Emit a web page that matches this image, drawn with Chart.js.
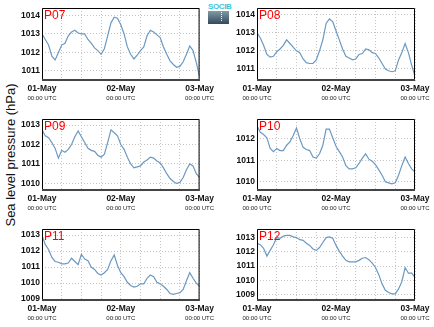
<!DOCTYPE html>
<html>
<head>
<meta charset="utf-8">
<script src="https://cdn.jsdelivr.net/npm/chart.js@4.4.1/dist/chart.umd.min.js"></script>
<style>
  body { margin: 0; width: 434px; height: 327px; overflow: hidden; background: #fff; font-family: "Liberation Sans", Arial, sans-serif; }
  .panel { position: absolute; }
  #ytitle { position: absolute; left: 10px; top: 155px; transform: translate(-50%, -50%) rotate(-90deg); font-size: 13px; white-space: nowrap; color: #111; }
  #logo { position: absolute; left: 208px; top: 3px; width: 21px; }
  #logo .txt { font-size: 8px; line-height: 7px; color: #3cc6dc; font-weight: bold; text-align: center; letter-spacing: -0.4px; }
  #logo .box { position: relative; height: 13px; margin-top: 1px; background: linear-gradient(#7f9aa6, #34495a); }
  #logo .box i { position: absolute; left: 13px; top: 1px; height: 9px; border-left: 1px dotted #fff; }
</style>
</head>
<body>
<div id="ytitle">Sea level pressure (hPa)</div>
<div id="logo"><div class="txt">SOCIB</div><div class="box"><i></i></div></div>
<script>
// Time axis: hours since 01-May 00:00 UTC
const hours = Array.from({length: 49}, (_, i) => i);
const dayLabels = ['01-May', '02-May', '03-May'];
const timeLabel = '00:00 UTC';

// Station names
const stations = ['P07', 'P08', 'P09', 'P10', 'P11', 'P12'];

// Hourly sea level pressure (hPa)
const p07 = [1013.0, 1012.7, 1012.4, 1011.8, 1011.6, 1012.0, 1012.4, 1012.5, 1012.9, 1013.1,
             1013.2, 1013.05, 1013.0, 1013.0, 1012.7, 1012.5, 1012.25, 1012.1, 1011.9, 1012.2,
             1012.9, 1013.6, 1013.9, 1013.85, 1013.5, 1013.0, 1012.3, 1011.9, 1011.65, 1011.85,
             1012.1, 1012.3, 1012.9, 1013.2, 1013.1, 1012.95, 1012.8, 1012.3, 1011.9, 1011.55,
             1011.35, 1011.2, 1011.25, 1011.5, 1011.9, 1012.35, 1012.1, 1011.45, 1010.7];
const p08 = [1013.0, 1012.7, 1012.3, 1011.8, 1011.65, 1011.7, 1011.95, 1012.1, 1012.3, 1012.6,
             1012.4, 1012.2, 1012.0, 1011.9, 1011.55, 1011.35, 1011.3, 1011.3, 1011.5, 1012.0,
             1012.6, 1013.5, 1013.75, 1013.6, 1013.1, 1012.6, 1012.1, 1011.7, 1011.6, 1011.5,
             1011.55, 1011.8, 1011.85, 1012.1, 1012.05, 1011.9, 1011.85, 1011.6, 1011.3, 1011.0,
             1010.9, 1010.85, 1010.9, 1011.5, 1011.9, 1012.4, 1011.9, 1011.2, 1010.6];
const p09 = [1012.75, 1012.45, 1012.35, 1012.1, 1011.8, 1011.3, 1011.7, 1011.6, 1011.75, 1012.0,
             1012.4, 1012.7, 1012.4, 1012.1, 1011.8, 1011.7, 1011.65, 1011.45, 1011.35, 1011.5,
             1012.1, 1012.75, 1012.6, 1012.45, 1012.0, 1011.75, 1011.35, 1011.0, 1010.8, 1010.85,
             1010.9, 1011.1, 1011.2, 1011.35, 1011.3, 1011.15, 1011.05, 1010.8, 1010.5, 1010.25,
             1010.1, 1010.0, 1010.05, 1010.3, 1010.7, 1011.0, 1010.9, 1010.5, 1010.3];
const p10 = [1012.6, 1012.3, 1012.2, 1012.05, 1011.55, 1011.4, 1011.55, 1011.45, 1011.45, 1011.7,
             1011.85, 1012.15, 1012.5, 1012.0, 1011.6, 1011.5, 1011.45, 1011.15, 1011.1, 1011.3,
             1011.7, 1012.45, 1012.45, 1012.05, 1011.65, 1011.4, 1011.15, 1010.75, 1010.6, 1010.6,
             1010.65, 1010.85, 1011.1, 1011.3, 1011.05, 1010.95, 1010.8, 1010.55, 1010.3, 1010.0,
             1009.95, 1009.9, 1009.95, 1010.3, 1010.75, 1011.15, 1010.85, 1010.6, 1010.45];
const p11 = [1013.0, 1012.4, 1012.1, 1011.6, 1011.35, 1011.3, 1011.2, 1011.2, 1011.25, 1011.55,
             1011.35, 1011.15, 1011.8, 1011.5, 1011.4, 1011.0, 1010.85, 1010.6, 1010.5, 1010.65,
             1010.85, 1011.4, 1011.75, 1011.1, 1010.65, 1010.4, 1010.05, 1009.85, 1009.75, 1009.8,
             1009.95, 1009.95, 1010.3, 1010.5, 1010.4, 1010.05, 1009.95, 1009.8, 1009.6, 1009.35,
             1009.3, 1009.35, 1009.4, 1009.6, 1010.15, 1010.65, 1010.3, 1010.0, 1009.8];
const p12 = [1012.6, 1012.5, 1012.25, 1011.7, 1012.1, 1012.5, 1013.0, 1012.95, 1013.1, 1013.15,
             1013.15, 1013.05, 1013.0, 1012.85, 1012.8, 1012.6, 1012.45, 1012.2, 1012.1, 1012.3,
             1012.65, 1013.0, 1013.05, 1012.95, 1012.45, 1012.05, 1011.7, 1011.4, 1011.3, 1011.3,
             1011.3, 1011.4, 1011.55, 1011.6, 1011.45, 1011.2, 1010.9, 1010.4, 1009.75, 1009.3,
             1009.15, 1009.05, 1009.05, 1009.4, 1009.9, 1010.9, 1010.5, 1010.5, 1010.2];
const series = [p07, p08, p09, p10, p11, p12];

// y-axis ranges per panel
const yMins = [1010.46, 1010.34, 1009.61, 1009.57, 1008.88, 1008.55];
const yMaxs = [1014.40, 1014.35, 1013.31, 1012.92, 1013.38, 1013.60];

// Grid placement (pixels)
const cols = [
    {left: 0, yWidth: 42, padRight: 17},
    {left: 217, yWidth: 40, padRight: 19}
];
const rows = [
    {top: 0, height: 110, padTop: 8, axisH: 29},
    {top: 110, height: 110, padTop: 9, axisH: 29},
    {top: 220, height: 107, padTop: 9, axisH: 26}
];

const lineColor = '#6b99c2';
const gridColor = '#c4c4c4';
const tickFont = {family: 'Liberation Sans', size: 8.5, weight: 'bold'};

// Frame around the plot area and the station label
const framePlugin = {
    id: 'frame',
    afterDatasetsDraw(chart) {
        const ctx = chart.ctx;
        const a = chart.chartArea;
        ctx.save();
        ctx.strokeStyle = '#000';
        ctx.lineWidth = 1;
        ctx.beginPath();
        ctx.moveTo(a.left + 0.5, a.bottom);
        ctx.lineTo(a.left + 0.5, a.top + 0.5);
        ctx.lineTo(a.right - 0.5, a.top + 0.5);
        ctx.lineTo(a.right - 0.5, a.bottom);
        ctx.stroke();
        ctx.strokeStyle = '#444';
        ctx.lineWidth = 2;
        ctx.beginPath();
        ctx.moveTo(a.left, a.bottom - 1);
        ctx.lineTo(a.right, a.bottom - 1);
        ctx.stroke();
        ctx.fillStyle = '#f00';
        ctx.font = '12px "Liberation Sans"';
        ctx.textBaseline = 'top';
        ctx.textAlign = 'left';
        ctx.fillText(chart.options.plugins.frame.name, a.left + 2, a.top + 2);
        ctx.restore();
    }
};

function makePanel(i) {
    const col = cols[i % 2];
    const row = rows[Math.floor(i / 2)];
    const div = document.createElement('div');
    div.className = 'panel';
    div.style.left = col.left + 'px';
    div.style.top = row.top + 'px';
    const canvas = document.createElement('canvas');
    canvas.width = 217;
    canvas.height = row.height;
    div.appendChild(canvas);
    document.body.appendChild(div);

    new Chart(canvas.getContext('2d'), {
        type: 'line',
        data: {
            datasets: [{
                data: hours.map((h, k) => ({x: h, y: series[i][k]})),
                borderColor: lineColor,
                borderWidth: 1.2,
                pointRadius: 0,
                tension: 0
            }]
        },
        options: {
            responsive: false,
            animation: false,
            devicePixelRatio: 1,
            layout: {padding: {top: row.padTop, right: col.padRight, left: 0, bottom: 0}},
            plugins: {
                legend: {display: false},
                tooltip: {enabled: false},
                frame: {name: stations[i]}
            },
            scales: {
                x: {
                    type: 'linear',
                    min: 0,
                    max: 48,
                    afterBuildTicks: s => { s.ticks = [0, 6, 12, 18, 24, 30, 36, 42, 48].map(v => ({value: v})); },
                    afterFit: s => { s.height = 14; },
                    grid: {color: gridColor, drawTicks: false, lineWidth: 1},
                    border: {display: false, dash: [1, 2]},
                    ticks: {
                        padding: 3,
                        maxRotation: 0,
                        autoSkip: false,
                        color: '#111',
                        font: tickFont,
                        callback: v => (v % 24 === 0 ? dayLabels[v / 24] : '')
                    }
                },
                x2: {
                    type: 'linear',
                    position: 'bottom',
                    min: 0,
                    max: 48,
                    afterBuildTicks: s => { s.ticks = [0, 24, 48].map(v => ({value: v})); },
                    afterFit: s => { s.height = row.axisH - 14; },
                    grid: {display: false, drawTicks: false},
                    border: {display: false},
                    ticks: {
                        padding: 0,
                        maxRotation: 0,
                        autoSkip: false,
                        color: '#222',
                        font: {family: 'Liberation Sans', size: 6},
                        callback: () => timeLabel
                    }
                },
                y: {
                    min: yMins[i],
                    max: yMaxs[i],
                    afterBuildTicks: s => {
                        const t = [];
                        for (let v = Math.ceil(s.min); v <= Math.floor(s.max); v++) t.push({value: v});
                        s.ticks = t;
                    },
                    afterFit: s => { s.width = col.yWidth; },
                    grid: {color: gridColor, drawTicks: false, lineWidth: 1},
                    border: {display: false, dash: [1, 2]},
                    ticks: {padding: 2, color: '#111', font: tickFont, callback: v => String(v)}
                }
            }
        },
        plugins: [framePlugin]
    });
}

stations.forEach((_, i) => makePanel(i));
</script>
</body>
</html>
